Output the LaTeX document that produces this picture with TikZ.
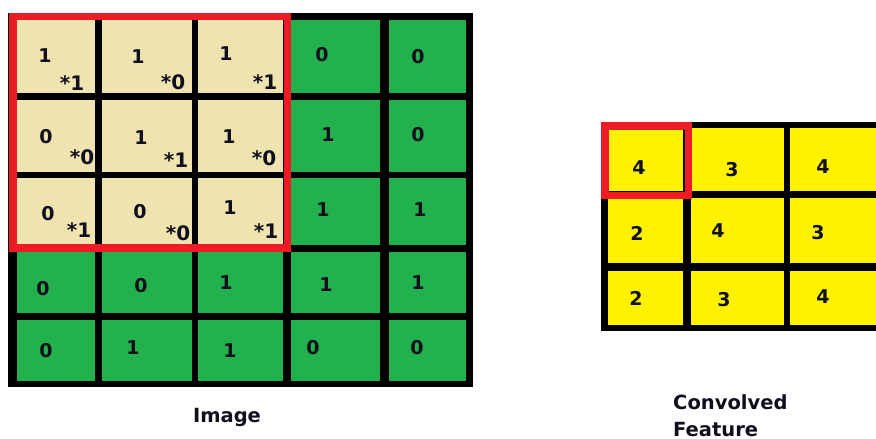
\documentclass[tikz,border=0pt]{standalone}
\usepackage{fontspec}
\setmainfont{DejaVu Sans}
\definecolor{pgreen}{RGB}{34,177,76}
\definecolor{ptan}{RGB}{239,228,176}
\definecolor{pyellow}{RGB}{255,242,0}
\definecolor{pred}{RGB}{237,28,36}
\definecolor{ink}{RGB}{15,15,30}
\begin{document}
\begin{tikzpicture}[x=1pt,y=-1pt,
  digit/.style={inner sep=0pt,text=ink,font=\bfseries\fontsize{19}{19}\selectfont},
  mult/.style={inner sep=0pt,text=ink,font=\bfseries\fontsize{20}{20}\selectfont},
  lbl/.style={inner sep=0pt,text=ink,font=\bfseries\fontsize{19.5}{20}\selectfont},
  redframe/.style={draw=pred,line width=7.5pt}]
\useasboundingbox (0,0) rectangle (876,439);
\fill[white] (0,0) rectangle (876,439);
% left grid
\fill[black] (8,13) rectangle (473,387);
\foreach \ya/\yb in {20/93,100/172,178/245,252/313,320/381}
  \foreach \xa/\xb in {17/95,102/192,198/283,291/380,389/466}
    \fill[pgreen] (\xa,\ya) rectangle (\xb,\yb);
\foreach \ya/\yb in {20/93,100/172,178/245}
  \foreach \xa/\xb in {17/95,102/192,198/283}
    \fill[ptan] (\xa,\ya) rectangle (\xb,\yb);
\draw[redframe] (13,16.5) rectangle (287.5,248);
% right grid
\fill[black] (601,122) rectangle (880,331);
\foreach \ya/\yb in {128/191,198/263,271/325}
  \foreach \xa/\xb in {608/683,691/784,790/880}
    \fill[pyellow] (\xa,\ya) rectangle (\xb,\yb);
\draw[redframe] (604.75,125.75) rectangle (688.25,195.25);
% left grid values
\node[digit] (a11) at (45,56) {1};   \node[mult] (m11) at (72,83) {*1};
\node[digit] (a12) at (138,57) {1};  \node[mult] (m12) at (173,82) {*0};
\node[digit] (a13) at (226,54) {1};  \node[mult] (m13) at (265,82) {*1};
\node[digit] (a14) at (322,55) {0};
\node[digit] (a15) at (418,57) {0};
\node[digit] (a21) at (46,137) {0};  \node[mult] (m21) at (82,157) {*0};
\node[digit] (a22) at (141,138) {1}; \node[mult] (m22) at (176,160) {*1};
\node[digit] (a23) at (229,137) {1}; \node[mult] (m23) at (264,158) {*0};
\node[digit] (a24) at (328,135) {1};
\node[digit] (a25) at (418,135) {0};
\node[digit] (a31) at (48,214) {0};  \node[mult] (m31) at (79,230) {*1};
\node[digit] (a32) at (140,212) {0}; \node[mult] (m32) at (178,233) {*0};
\node[digit] (a33) at (230,208) {1}; \node[mult] (m33) at (266,231) {*1};
\node[digit] (a34) at (323,210) {1};
\node[digit] (a35) at (420,210) {1};
\node[digit] (a41) at (43,289) {0};
\node[digit] (a42) at (141,286) {0};
\node[digit] (a43) at (226,283) {1};
\node[digit] (a44) at (326,285) {1};
\node[digit] (a45) at (418,283) {1};
\node[digit] (a51) at (46,351) {0};
\node[digit] (a52) at (133,348) {1};
\node[digit] (a53) at (230,351) {1};
\node[digit] (a54) at (313,348) {0};
\node[digit] (a55) at (417,348) {0};
% right grid values
\node[digit] (c11) at (639,168) {4};
\node[digit] (c12) at (732,170) {3};
\node[digit] (c13) at (823,167) {4};
\node[digit] (c21) at (637,233) {2};
\node[digit] (c22) at (718,231) {4};
\node[digit] (c23) at (818,233) {3};
\node[digit] (c31) at (636,298) {2};
\node[digit] (c32) at (724,300) {3};
\node[digit] (c33) at (823,297) {4};
% labels
\node[lbl,anchor=base] (limg) at (227,422.5) {Image};
\node[lbl,anchor=base west] (lconv) at (673,409) {Convolved};
\node[lbl,anchor=base west] (lfeat) at (673,436) {Feature};
\end{tikzpicture}
\end{document}
